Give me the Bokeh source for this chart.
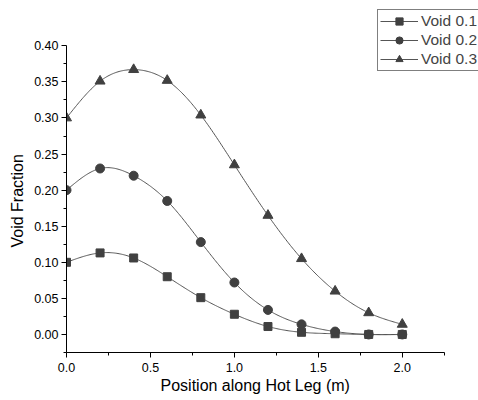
import numpy as np
from bokeh.plotting import figure
from bokeh.models import (Range1d, FixedTicker, Legend, LegendItem, NumeralTickFormatter,
                          Title, LinearAxis)
from bokeh.embed import file_html
from bokeh.resources import INLINE

positions = [0.0, 0.2, 0.4, 0.6, 0.8, 1.0, 1.2, 1.4, 1.6, 1.8, 2.0]
void_01 = [0.100, 0.113, 0.106, 0.080, 0.051, 0.028, 0.011, 0.003, 0.001, 0.000, 0.000]
void_02 = [0.200, 0.230, 0.220, 0.185, 0.128, 0.072, 0.034, 0.014, 0.004, 0.000, 0.000]
void_03 = [0.300, 0.351, 0.367, 0.352, 0.304, 0.235, 0.165, 0.105, 0.060, 0.030, 0.014]
series_names = ["Void 0.1", "Void 0.2", "Void 0.3"]
x_ticks = [0.0, 0.5, 1.0, 1.5, 2.0]
y_ticks = [0.00, 0.05, 0.10, 0.15, 0.20, 0.25, 0.30, 0.35, 0.40]
x_title = "Position along Hot Leg (m)"
y_title = "Void Fraction"


def natural_spline(x, y, n=30):
    # smooth display line through the data points (natural cubic spline)
    x = np.asarray(x, float)
    y = np.asarray(y, float)
    k = len(x)
    h = np.diff(x)
    A = np.zeros((k, k))
    b = np.zeros(k)
    A[0, 0] = A[-1, -1] = 1
    for i in range(1, k - 1):
        A[i, i - 1] = h[i - 1]
        A[i, i] = 2 * (h[i - 1] + h[i])
        A[i, i + 1] = h[i]
        b[i] = 3 * ((y[i + 1] - y[i]) / h[i] - (y[i] - y[i - 1]) / h[i - 1])
    c = np.linalg.solve(A, b)
    xs, ys = [], []
    for i in range(k - 1):
        bb = (y[i + 1] - y[i]) / h[i] - h[i] * (2 * c[i] + c[i + 1]) / 3
        d = (c[i + 1] - c[i]) / (3 * h[i])
        t = np.linspace(0, h[i], n, endpoint=(i == k - 2))
        xs.extend(x[i] + t)
        ys.extend(y[i] + bb * t + c[i] * t ** 2 + d * t ** 3)
    return xs, ys


# frame spans x 65..478 and y 0..352 px; axis lines limited with bounds
p = figure(width=478, height=400, output_backend="svg", toolbar_location=None,
           x_range=Range1d(0, 2.454), y_range=Range1d(-0.025, 0.4628),
           min_border_left=65, min_border_right=0, min_border_top=0, min_border_bottom=48)
p.outline_line_color = None
p.grid.visible = False
p.background_fill_color = "white"
p.border_fill_color = "white"

line_col = "#555555"
mark_col = "#404040"
items = []
markers = ["square", "circle", "triangle"]
sizes = [8, 9, 10]
for name, vals, mk, sz in zip(series_names, [void_01, void_02, void_03], markers, sizes):
    sx, sy = natural_spline(positions, vals)
    lr = p.line(sx, sy, line_color=line_col, line_width=1)
    sr = p.scatter(positions, vals, marker=mk, size=sz, fill_color=mark_col, line_color=mark_col)
    items.append(LegendItem(label=name, renderers=[lr, sr]))

for ax in (p.xaxis[0], p.yaxis[0]):
    ax.axis_line_color = "black"
    ax.major_tick_line_color = "black"
    ax.minor_tick_line_color = "black"
    ax.major_tick_in = 0
    ax.major_tick_out = 5
    ax.minor_tick_in = 0
    ax.minor_tick_out = 3
    ax.major_label_text_font = "Liberation Sans"
    ax.major_label_text_font_size = "12.5px"
    ax.major_label_text_color = "black"

p.xaxis.bounds = (0, 2.25)
p.yaxis.bounds = (-0.025, 0.40)
p.xaxis.ticker = FixedTicker(ticks=x_ticks, minor_ticks=[0.25, 0.75, 1.25, 1.75, 2.25])
p.yaxis.ticker = FixedTicker(ticks=y_ticks, minor_ticks=[-0.025, 0.025, 0.075, 0.125, 0.175, 0.225, 0.275, 0.325, 0.375])
p.xaxis.formatter = NumeralTickFormatter(format="0.0")
p.yaxis.formatter = NumeralTickFormatter(format="0.00")
p.xaxis.major_label_standoff = 5
p.yaxis.major_label_standoff = 3

# invisible spacer axis (no ticks, no labels) to push the x title down
spacer = LinearAxis(ticker=FixedTicker(ticks=[], minor_ticks=[]), axis_line_color=None,
                    major_tick_line_color=None, minor_tick_line_color=None,
                    major_tick_in=0, major_tick_out=7, minor_tick_in=0, minor_tick_out=0,
                    major_label_standoff=0)
p.add_layout(spacer, "below")

# axis titles as side titles so they can be placed under the axis-line extent
tx = Title(text=x_title, align="left", offset=94, vertical_align="bottom", text_font="Liberation Sans",
           text_font_size="16px", text_font_style="normal", text_color="black", standoff=0)
ty = Title(text=y_title, align="left", offset=105, text_font="Liberation Sans",
           text_font_size="16px", text_font_style="normal", text_color="black", standoff=12)
p.add_layout(tx, "below")
p.add_layout(ty, "left")

legend = Legend(items=items, location=(311, 281))
legend.border_line_color = "black"
legend.border_line_width = 1
legend.background_fill_alpha = 1
legend.label_text_font = "Liberation Sans"
legend.label_text_font_size = "15.5px"
legend.glyph_width = 38
legend.glyph_height = 18
legend.label_height = 18
legend.label_standoff = 3
legend.spacing = 1
legend.padding = 2
legend.margin = 0
p.add_layout(legend)

open("out.html", "w").write(file_html(p, INLINE))
